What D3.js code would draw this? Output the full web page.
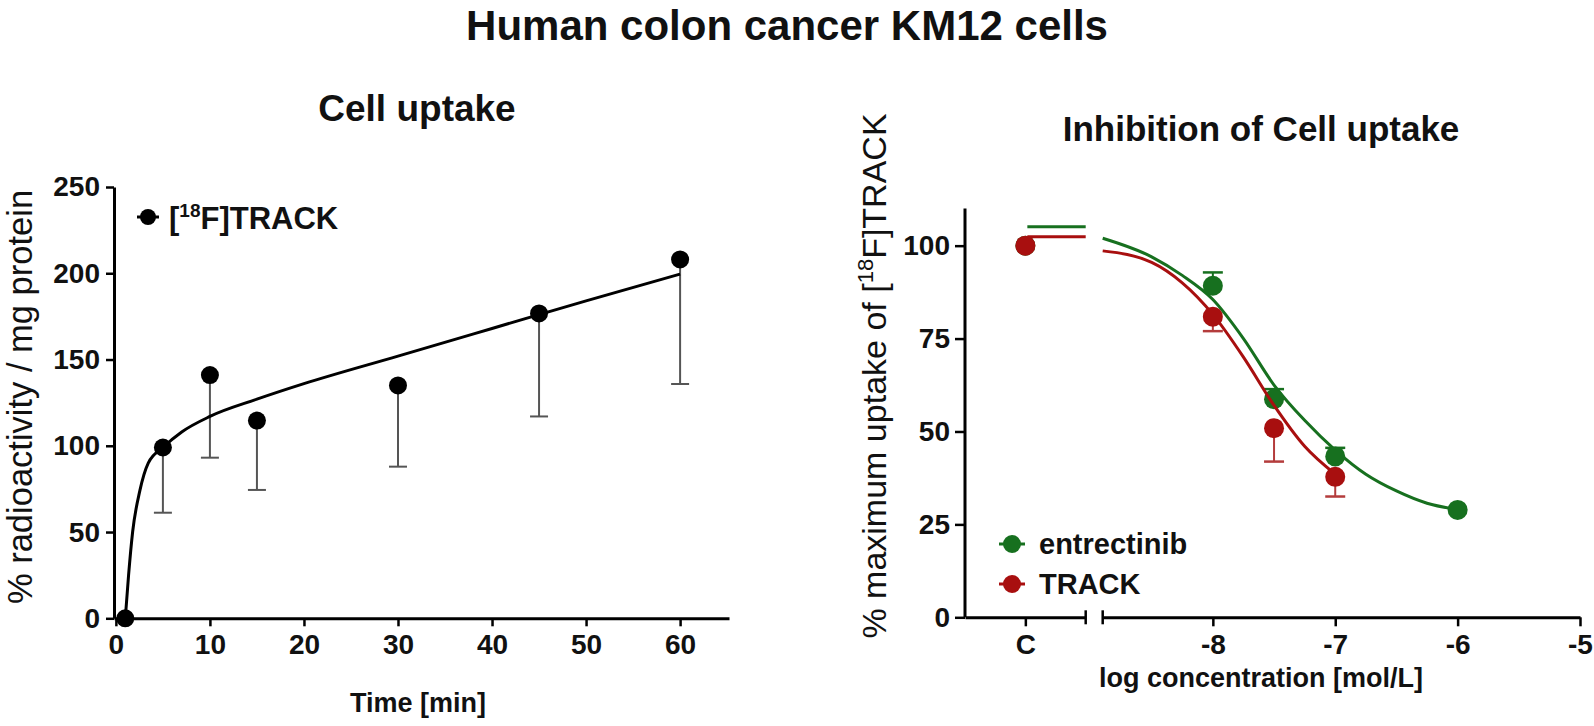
<!DOCTYPE html>
<html><head><meta charset="utf-8">
<script src="https://cdn.jsdelivr.net/npm/d3@7"></script>
<style>body{margin:0;background:#fff}</style>
</head><body><svg id="c" width="1594" height="726"></svg>
<script>
// ---------- Left panel: cell uptake ----------
const uptakeTime = [1, 5, 10, 15, 30, 45, 60];
const uptakeMean = [0, 99, 141, 114.6, 135, 176.7, 208];
const uptakeSD   = [0, 37.8, 47.9, 40.2, 47.1, 59.7, 72.2];
const uptakeFitTime  = [1, 1.35, 1.78, 2.55, 3.44, 5, 7, 10, 15, 20, 30, 40, 50, 60];
const uptakeFitValue = [0, 25, 50, 74, 90, 99, 108, 117, 127, 136, 152, 168, 184, 199.5];
const timeTicks   = [0, 10, 20, 30, 40, 50, 60];
const uptakeTicks = [0, 50, 100, 150, 200, 250];

// ---------- Right panel: inhibition ----------
const controlLabel = ["C"];
const logConcTicks = [-8, -7, -6, -5];
const inhibTicks   = [0, 25, 50, 75, 100];
const seriesNames  = ["entrectinib", "TRACK"];
const controlMean  = [100, 100];
const fitTop       = [105.1, 102.4];
const entrectinibLog  = [-8, -7.5, -7, -6];
const entrectinibMean = [89.2, 58.7, 43.3, 28.9];
const entrectinibSD   = [3.6, 2.7, 2.3, 0];
const trackLog  = [-8, -7.5, -7];
const trackMean = [80.9, 50.9, 37.8];
const trackSD   = [3.9, 9.0, 5.3];
const entrectinibFitLog   = [-8.9, -8.5, -8.25, -8, -7.75, -7.5, -7.25, -7, -6.75, -6.5, -6.25, -6];
const entrectinibFitValue = [102, 97, 92, 85.5, 75, 62.5, 53, 45, 38.5, 34, 30.7, 29];
const trackFitLog   = [-8.9, -8.5, -8.25, -8, -7.75, -7.5, -7.25, -7];
const trackFitValue = [98.6, 95.5, 90, 81.5, 70, 57, 46, 38.5];

const FONT = '"Liberation Sans", Arial, Helvetica, sans-serif';
const GREEN = "#17701f", RED = "#a80f0f", RED_BAR = "#b43c3c";

const svg = d3.select("#c").attr("font-family", FONT);

function styleAxis(g) {
  g.attr("font-family", FONT);
  g.select(".domain").attr("stroke", "#000").attr("stroke-width", 3);
  g.selectAll(".tick line").attr("stroke", "#000").attr("stroke-width", 2.5);
  g.selectAll(".tick text").attr("font-size", 28).attr("font-weight", "bold").attr("fill", "#111");
}

// Main title
svg.append("text").attr("x", 787).attr("y", 40).attr("text-anchor", "middle")
  .attr("font-size", 42).attr("font-weight", "bold").attr("fill", "#111")
  .text("Human colon cancer KM12 cells");

// ================= LEFT =================
const xL = d3.scaleLinear().domain([-0.2, 65.2]).range([114, 729]);
const yL = d3.scaleLinear().domain([0, 250]).range([618.3, 187]);

svg.append("text").attr("x", 417).attr("y", 121).attr("text-anchor", "middle")
  .attr("font-size", 37).attr("font-weight", "bold").attr("fill", "#111").text("Cell uptake");

const gxL = svg.append("g").attr("transform", `translate(0,${yL(0)})`)
  .call(d3.axisBottom(xL).tickValues(timeTicks).tickSize(8).tickSizeOuter(0).tickPadding(8).tickFormat(d => String(d)));
styleAxis(gxL);
const gyL = svg.append("g").attr("transform", `translate(${xL.range()[0]},0)`)
  .call(d3.axisLeft(yL).tickValues(uptakeTicks).tickSize(8).tickSizeOuter(0).tickPadding(6).tickFormat(d => String(d)));
styleAxis(gyL);

svg.append("text").attr("transform", `translate(32,397) rotate(-90)`).attr("text-anchor", "middle")
  .attr("font-size", 34.5).attr("fill", "#111").text("% radioactivity / mg protein");
svg.append("text").attr("x", 418).attr("y", 712).attr("text-anchor", "middle")
  .attr("font-size", 27).attr("font-weight", "bold").attr("fill", "#111").text("Time [min]");

const upData = uptakeTime.map((t, i) => ({t, m: uptakeMean[i], sd: uptakeSD[i]}));
// error bars (below only)
const eb = svg.append("g").attr("stroke", "#555").attr("stroke-width", 2);
upData.filter(d => d.sd > 0).forEach(d => {
  eb.append("line").attr("x1", xL(d.t)).attr("x2", xL(d.t)).attr("y1", yL(d.m)).attr("y2", yL(d.m - d.sd));
  eb.append("line").attr("x1", xL(d.t) - 9).attr("x2", xL(d.t) + 9).attr("y1", yL(d.m - d.sd)).attr("y2", yL(d.m - d.sd));
});
// fit curve
const fitL = uptakeFitTime.map((t, i) => [t, uptakeFitValue[i]]);
svg.append("path").datum(fitL).attr("fill", "none").attr("stroke", "#000").attr("stroke-width", 3)
  .attr("d", d3.line().x(d => xL(d[0])).y(d => yL(d[1])).curve(d3.curveMonotoneX));
svg.append("g").selectAll("circle").data(upData).join("circle")
  .attr("cx", d => xL(d.t)).attr("cy", d => yL(d.m)).attr("r", 9).attr("fill", "#000");

// legend left
const legL = svg.append("g").attr("transform", "translate(148,217)");
legL.append("line").attr("x1", -11).attr("x2", 11).attr("stroke", "#000").attr("stroke-width", 3);
legL.append("circle").attr("r", 8).attr("fill", "#000");
const ltxt = svg.append("text").attr("x", 169).attr("y", 229).attr("font-size", 31)
  .attr("font-weight", "bold").attr("fill", "#111");
ltxt.append("tspan").text("[");
ltxt.append("tspan").attr("font-size", 19).attr("dy", -12).text("18");
ltxt.append("tspan").attr("dy", 12).text("F]TRACK");

// ================= RIGHT =================
const yR = d3.scaleLinear().domain([0, 110]).range([617.3, 208.5]);
const xC = d3.scalePoint().domain(controlLabel).range([965, 1085.7]).padding(0.5);
const xR = d3.scaleLinear().domain([-8.9, -5]).range([1102.7, 1580]);

svg.append("text").attr("x", 1261).attr("y", 141).attr("text-anchor", "middle")
  .attr("font-size", 35).attr("font-weight", "bold").attr("fill", "#111").text("Inhibition of Cell uptake");

const gyR = svg.append("g").attr("transform", "translate(965,0)")
  .call(d3.axisLeft(yR).tickValues(inhibTicks).tickSize(10).tickSizeOuter(0).tickPadding(5).tickFormat(d => String(d)));
gyR.select(".domain").attr("d", `M0,${yR(0)}V${yR(110)}`);
styleAxis(gyR);
const gxC = svg.append("g").attr("transform", `translate(0,${yR(0)})`)
  .call(d3.axisBottom(xC).tickSize(9).tickSizeOuter(0).tickPadding(8));
styleAxis(gxC);
const gxR = svg.append("g").attr("transform", `translate(0,${yR(0)})`)
  .call(d3.axisBottom(xR).tickValues(logConcTicks).tickSize(9).tickSizeOuter(0).tickPadding(8).tickFormat(d => String(d)));
styleAxis(gxR);
// break marks
[xC.range()[1], xR.range()[0]].forEach(x => {
  svg.append("line").attr("x1", x).attr("x2", x).attr("y1", yR(0) - 7).attr("y2", yR(0) + 7)
    .attr("stroke", "#000").attr("stroke-width", 2.5);
});

svg.append("text").attr("x", 1261).attr("y", 687).attr("text-anchor", "middle")
  .attr("font-size", 27).attr("font-weight", "bold").attr("fill", "#111").text("log concentration [mol/L]");
const ry = svg.append("text").attr("transform", "translate(886,376) rotate(-90)").attr("text-anchor", "middle")
  .attr("font-size", 34).attr("fill", "#111");
ry.append("tspan").text("% maximum uptake of [");
ry.append("tspan").attr("font-size", 22).attr("dy", -13).text("18");
ry.append("tspan").attr("dy", 13).text("F]TRACK");

const lineR = d3.line().x(d => xR(d[0])).y(d => yR(d[1])).curve(d3.curveMonotoneX);
const series = [
  {name: seriesNames[0], color: GREEN, bar: GREEN, dir: 1, fitX: entrectinibFitLog, fitY: entrectinibFitValue,
   x: entrectinibLog, m: entrectinibMean, sd: entrectinibSD, top: fitTop[0], c: controlMean[0]},
  {name: seriesNames[1], color: RED, bar: RED_BAR, dir: -1, fitX: trackFitLog, fitY: trackFitValue,
   x: trackLog, m: trackMean, sd: trackSD, top: fitTop[1], c: controlMean[1]}
];
series.forEach(s => {
  const g = svg.append("g");
  // plateau in control segment
  g.append("line").attr("x1", xC("C") + 2).attr("x2", xC.range()[1]).attr("y1", yR(s.top)).attr("y2", yR(s.top))
    .attr("stroke", s.color).attr("stroke-width", 3);
  g.append("path").datum(s.fitX.map((x, i) => [x, s.fitY[i]])).attr("fill", "none")
    .attr("stroke", s.color).attr("stroke-width", 3).attr("d", lineR);
  s.x.forEach((x, i) => {
    if (s.sd[i] <= 0) return;
    const y0 = yR(s.m[i]), y1 = yR(s.m[i] + s.dir * s.sd[i]);
    g.append("line").attr("x1", xR(x)).attr("x2", xR(x)).attr("y1", y0).attr("y2", y1).attr("stroke", s.bar).attr("stroke-width", 2);
    g.append("line").attr("x1", xR(x) - 10).attr("x2", xR(x) + 10).attr("y1", y1).attr("y2", y1).attr("stroke", s.bar).attr("stroke-width", 2.5);
  });
  g.selectAll("circle.pt").data(s.x.map((x, i) => [x, s.m[i]])).join("circle").attr("class", "pt")
    .attr("cx", d => xR(d[0])).attr("cy", d => yR(d[1])).attr("r", 10).attr("fill", s.color);
  g.append("circle").attr("cx", xC("C")).attr("cy", yR(s.c)).attr("r", 10).attr("fill", s.color);
});

// legend right
series.forEach((s, i) => {
  const yy = 544 + i * 40;
  svg.append("line").attr("x1", 999).attr("x2", 1025).attr("y1", yy).attr("y2", yy).attr("stroke", s.color).attr("stroke-width", 3);
  svg.append("circle").attr("cx", 1012).attr("cy", yy).attr("r", 9).attr("fill", s.color);
  svg.append("text").attr("x", 1039).attr("y", yy + 10).attr("font-size", 29).attr("font-weight", "bold")
    .attr("fill", "#111").text(s.name);
});
</script>
</body></html>
